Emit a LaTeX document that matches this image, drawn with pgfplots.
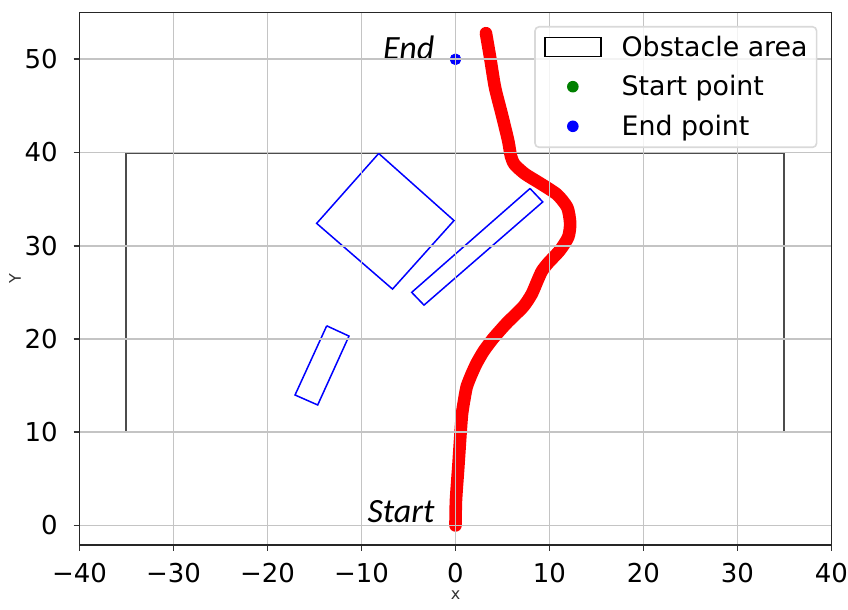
\documentclass[border=0pt]{standalone}
\usepackage{pgfplots}
\pgfplotsset{compat=1.18}
\usepackage{fontspec}
\setmainfont{DejaVu Sans}
\newfontfamily\carlito{Carlito}
\definecolor{mplgreen}{HTML}{008000}
\definecolor{gridgray}{HTML}{C4C4C4}
\begin{document}
\begin{tikzpicture}
\path[use as bounding box] (0,0) rectangle (424bp,305bp);
\begin{axis}[
  at={(39.75bp,32.5bp)}, anchor=south west,
  scale only axis, width=376bp, height=266.15bp,
  xmin=-40, xmax=40, ymin=-2.1, ymax=55,
  xtick={-40,-30,-20,-10,0,10,20,30,40},
  xticklabels={−40,−30,−20,−10,0,10,20,30,40},
  ytick={0,10,20,30,40,50},
  yticklabels={0,10,20,30,40,50},
  xtick pos=bottom, ytick pos=left,
  tick align=outside, major tick length=3bp,
  tick style={line width=0.8bp, draw=black!80},
  axis line style={line width=0.8bp, draw=black!85},
  grid=major, major grid style={line width=0.8bp, draw=gridgray},
  axis on top,
  clip marker paths=true,
  tick label style={font=\fontsize{13bp}{15bp}\selectfont},
  xticklabel style={inner sep=0pt, anchor=north, yshift=-5.85bp},
  yticklabel style={inner sep=0pt, anchor=east, xshift=-7.75bp},
  xlabel={x}, ylabel={Y},
  label style={font=\fontsize{8bp}{9bp}\selectfont, text=black!80},
  xlabel style={at={(axis description cs:0.5,0)}, anchor=center, yshift=-25bp},
  ylabel style={at={([xshift=-32.25bp]axis description cs:0,0.5)}, anchor=center},
  legend cell align=left,
  legend style={at={([xshift=-7.05bp,yshift=-6.65bp]axis description cs:1,1)}, anchor=north east,
    draw=black!15, line width=0.8bp, rounded corners=2bp, fill=white, fill opacity=0.8, text opacity=1,
    inner xsep=4.5bp, inner ysep=5bp, row sep=9.3bp, column sep=10bp,
    font=\fontsize{13.4bp}{15bp}\selectfont,
    nodes={inner sep=0pt, text height=9.5bp, text depth=1bp}},
]
% obstacle area
\addplot[draw=black!70, line width=1bp, sharp corners,
  legend image code/.code={\draw[black, line width=0.8bp, fill=white, fill opacity=1, sharp corners] (0bp,-4.5bp) rectangle (28bp,5bp);}]
  coordinates {(-35,10) (35,10) (35,40) (-35,40) (-35,10)};
\addlegendentry{Obstacle area}
% obstacles
\addplot[blue, line width=0.75bp, forget plot, sharp corners]
  coordinates {(-8.17,39.9) (-0.16,32.7) (-6.7,25.35) (-14.77,32.4) (-8.17,39.9)};
\addplot[blue, line width=0.75bp, forget plot, sharp corners]
  coordinates {(7.93,36.14) (9.28,34.7) (-3.35,23.63) (-4.66,25.0) (7.93,36.14)};
\addplot[blue, line width=0.75bp, forget plot, sharp corners]
  coordinates {(-13.7,21.41) (-11.33,20.31) (-14.66,12.92) (-17.07,13.99) (-13.7,21.41)};
% start point
\addplot[only marks, mark=*, mark size=2.7bp, mplgreen, mark options={draw=mplgreen, fill=mplgreen},
  legend image code/.code={\path[draw=none,fill=none] (0bp,-4.5bp) rectangle (28bp,5bp); \fill[mplgreen, fill opacity=1, draw=none] (14bp,0.25bp) circle (2.9bp);}]
  coordinates {(0,0)};
\addlegendentry{Start point}
% end point
\addplot[only marks, mark=*, mark size=2.7bp, blue, mark options={draw=blue, fill=blue},
  legend image code/.code={\path[draw=none,fill=none] (0bp,-4.5bp) rectangle (28bp,5bp); \fill[blue, fill opacity=1, draw=none] (14bp,0.25bp) circle (2.9bp);}]
  coordinates {(0,50)};
\addlegendentry{End point}
% path
\addplot[red, line width=6.3bp, line cap=round, line join=round, smooth, tension=0.4, forget plot]
  coordinates {(0,0) (0.05,2.7) (0.3,6.3) (0.55,10.1) (0.7,12.0) (0.95,13.6) (1.2,14.9) (1.7,16.2) (2.25,17.4)
  (3.0,18.7) (4.0,20.05) (5.45,21.7) (7.2,23.45) (8.1,24.8) (8.7,26.2) (9.2,27.3) (9.9,28.2) (11.1,29.5)
  (12.0,30.95) (12.2,32.4) (11.9,34.1) (10.8,35.5) (9.0,36.7) (7.4,37.7) (6.3,38.7) (5.9,39.6) (5.6,41.3)
  (4.9,44.2) (4.2,47.0) (3.7,50.1) (3.24,52.8)};
\node[anchor=base east, inner sep=0pt, font=\carlito\itshape\fontsize{17bp}{20bp}\selectfont] at (axis cs:-2.2,50) {End};
\node[anchor=base east, inner sep=0pt, font=\carlito\itshape\fontsize{17bp}{20bp}\selectfont] at (axis cs:-2.2,0.27) {Start};
\end{axis}
\end{tikzpicture}
\end{document}
